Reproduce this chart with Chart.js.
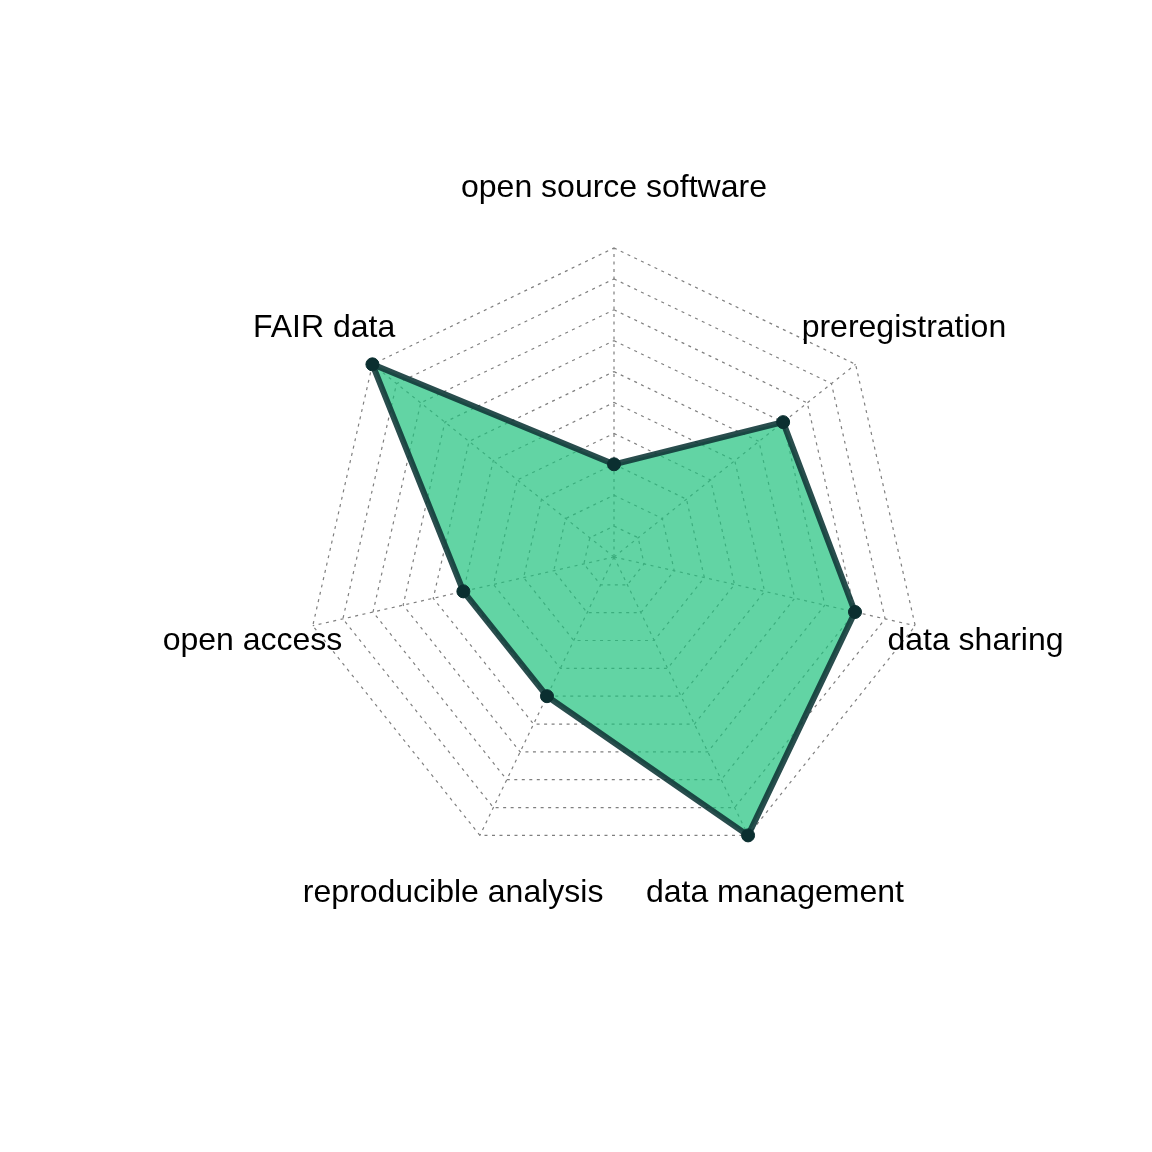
<!DOCTYPE html>
<html>
<head>
<meta charset="utf-8">
<script src="https://cdn.jsdelivr.net/npm/chart.js@4/dist/chart.umd.min.js"></script>
<style>
html,body{margin:0;padding:0;background:#ffffff;}
canvas{display:block;}
</style>
</head>
<body>
<canvas id="c" width="1152" height="1152"></canvas>
<script>
const categories = ["open source software","preregistration","data sharing","data management","reproducible analysis","open access","FAIR data"];
const values = [3, 7, 8, 10, 5, 5, 10];
const scaleMin = 0;
const scaleMax = 10;
const labelRadiusValue = 12;

const labelPlugin = {
  id: 'centeredLabels',
  afterDraw(chart) {
    const scale = chart.scales.r;
    const ctx = chart.ctx;
    ctx.save();
    ctx.font = '32px "Liberation Sans", Arial, sans-serif';
    ctx.fillStyle = '#000000';
    ctx.textAlign = 'center';
    ctx.textBaseline = 'middle';
    categories.forEach((lab, i) => {
      const p = scale.getPointPositionForValue(i, labelRadiusValue);
      ctx.fillText(lab, p.x, p.y + 2);
    });
    ctx.restore();
  }
};

new Chart(document.getElementById('c'), {
  type: 'radar',
  data: {
    labels: categories,
    datasets: [{
      data: values,
      fill: true,
      backgroundColor: 'rgba(32,194,125,0.7)',
      borderColor: 'rgba(18,58,58,0.9)',
      borderWidth: 6,
      borderJoinStyle: 'round',
      pointRadius: 6.5,
      pointBackgroundColor: '#0b2f30',
      pointBorderColor: '#0b2f30',
      pointBorderWidth: 1,
      tension: 0
    }]
  },
  options: {
    responsive: false,
    animation: false,
    devicePixelRatio: 1,
    layout: { padding: { left: 305, right: 229, top: 248, bottom: 286 } },
    plugins: { legend: { display: false }, tooltip: { enabled: false } },
    scales: {
      r: {
        min: scaleMin,
        max: scaleMax,
        startAngle: 0,
        ticks: { display: false, stepSize: 1 },
        pointLabels: { display: false },
        grid: {
          color: '#7f7f7f',
          lineWidth: 1.2
        },
        border: {
          dash: [3, 4.5]
        },
        angleLines: {
          color: '#7f7f7f',
          lineWidth: 1.2,
          borderDash: [3, 4.5]
        }
      }
    }
  },
  plugins: [labelPlugin]
});
</script>
</body>
</html>
